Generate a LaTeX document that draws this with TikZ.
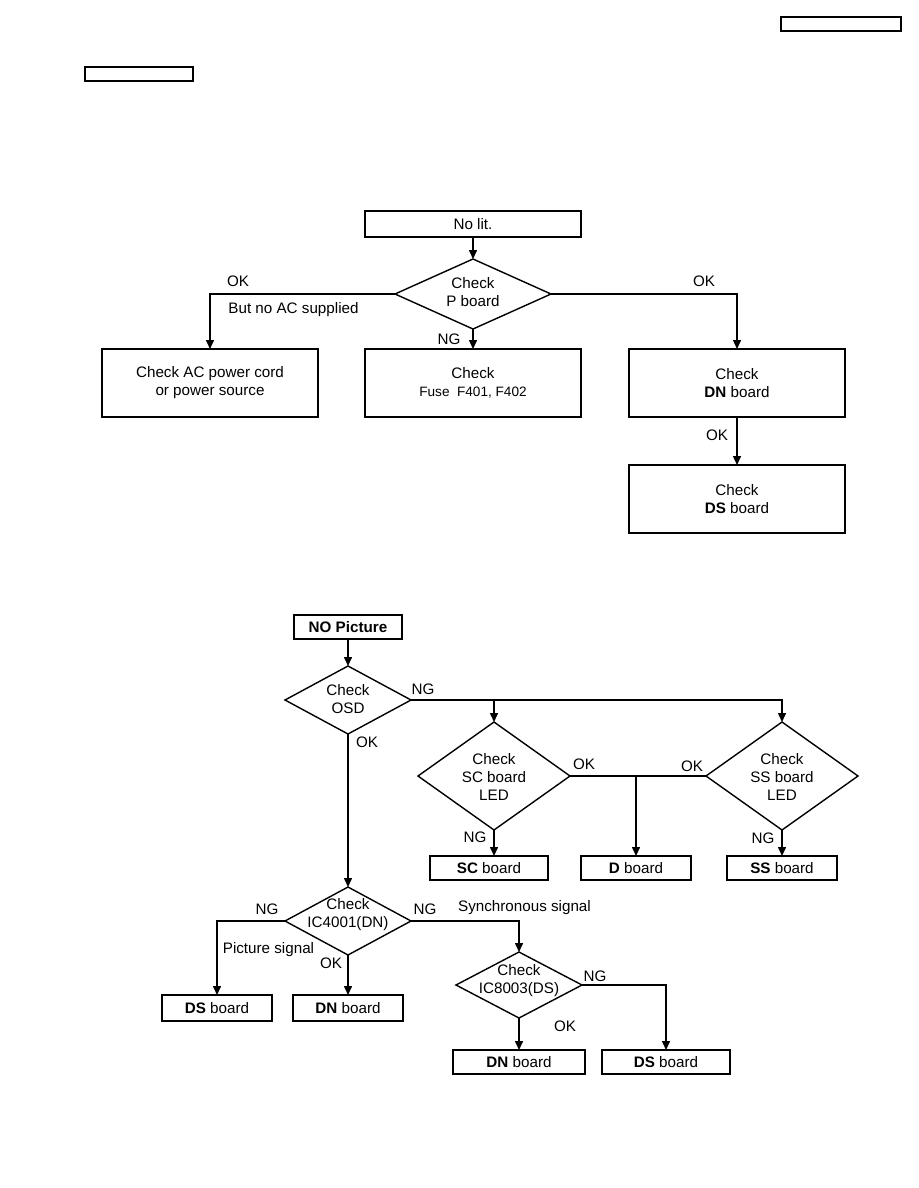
\documentclass[tikz,border=0pt]{standalone}
\usepackage{fontspec}
\setmainfont{Liberation Sans}
\usetikzlibrary{shapes.geometric, arrows.meta, positioning}

\begin{document}
\begin{tikzpicture}[
    x=1pt, y=-1pt,
    font=\fontsize{15.2}{18}\selectfont,
    action/.style={rectangle, draw, line width=1.6pt, align=center, inner sep=0pt, outer sep=0pt},
    decision/.style={diamond, draw, line width=1.4pt, inner sep=0pt, outer sep=0pt},
    blank/.style={rectangle, draw, line width=1.3pt, inner sep=0pt, outer sep=0pt},
    arrow/.style={-{Triangle[length=9pt, width=8pt]}, line width=1.5pt},
    line/.style={line width=1.5pt}
]
\useasboundingbox (0,0) rectangle (918,1188);

% Header boxes
\node[blank, minimum width=120pt, minimum height=14pt] (headright) at (841,24) {};
\node[blank, minimum width=108pt, minimum height=14pt] (headleft) at (139,74) {};

% No lit.
\node[action, minimum width=216pt, minimum height=26pt] (nolit) at (473,224) {No lit.};
\node[decision, minimum width=156pt, minimum height=70pt] (pboard) at (473,294) {};
\node[align=center] (pboardtext) at (473,292) {Check\\P board};
\node[action, minimum width=216pt, minimum height=68pt] (fuse) at (473,383) {Check\\{\fontsize{13.6}{18}\selectfont Fuse\ \ F401, F402}};
\node[action, minimum width=216pt, minimum height=68pt] (acpower) at (210,383) {Check AC power cord\\or power source};
\node[action, minimum width=216pt, minimum height=68pt] (dnboard) at (737,383) {Check\\\textbf{DN} board};
\node[action, minimum width=216pt, minimum height=68pt, below=48pt of dnboard] (dsboard) {Check\\\textbf{DS} board};

\draw[arrow] (nolit.south) -- (pboard.north);
\draw[arrow] (pboard.west) -| (acpower.north);
\draw[arrow] (pboard.south) -- (fuse.north);
\draw[arrow] (pboard.east) -| (dnboard.north);
\draw[arrow] (dnboard.south) -- (dsboard.north);

\node (okac) at (238,281) {OK};
\node (noac) at (293.5,310) {But no AC supplied};
\node (ngfuse) at (449,339) {NG};
\node (okdn) at (704,281) {OK};
\node (okds) at (717,435) {OK};

% NO Picture
\node[action, minimum width=108pt, minimum height=24pt] (nopic) at (348,627) {\textbf{NO Picture}};
\node[decision, minimum width=126pt, minimum height=68pt] (osd) at (348,700) {};
\node[align=center] (osdtext) at (348,699) {Check\\OSD};
\node[decision, minimum width=152pt, minimum height=108pt] (scled) at (494,776) {};
\node[align=center] (scledtext) at (494,777) {Check\\SC board\\LED};
\node[decision, minimum width=152pt, minimum height=108pt] (ssled) at (782,776) {};
\node[align=center] (ssledtext) at (782,777) {Check\\SS board\\LED};
\node[action, minimum width=118pt, minimum height=24pt] (scboard) at (489,868) {\textbf{SC} board};
\node[action, minimum width=110pt, minimum height=24pt] (dboard) at (636,868) {\textbf{D} board};
\node[action, minimum width=110pt, minimum height=24pt] (ssboard) at (782,868) {\textbf{SS} board};

\node[decision, minimum width=126pt, minimum height=68pt] (icdn) at (348,921) {};
\node[align=center] (icdntext) at (348,915) {Check\\IC4001(DN)};
\node[action, minimum width=110pt, minimum height=26pt] (dsleft) at (217,1008) {\textbf{DS} board};
\node[action, minimum width=110pt, minimum height=26pt] (dnleft) at (348,1008) {\textbf{DN} board};
\node[decision, minimum width=126pt, minimum height=66pt] (icds) at (519,985) {};
\node[align=center] (icdstext) at (519,981) {Check\\IC8003(DS)};
\node[action, minimum width=132pt, minimum height=24pt] (dnlow) at (519,1062) {\textbf{DN} board};
\node[action, minimum width=128pt, minimum height=24pt] (dslow) at (666,1062) {\textbf{DS} board};

\draw[arrow] (nopic.south) -- (osd.north);
\draw[arrow] (osd.east) -| (ssled.north);
\draw[arrow] (scled.north |- osd.east) -- (scled.north);
\draw[line] (scled.east) -- (ssled.west);
\draw[arrow] (dboard.north |- scled.east) -- (dboard.north);
\draw[arrow] (scled.south) -- (scled.south |- scboard.north);
\draw[arrow] (ssled.south) -- (ssled.south |- ssboard.north);
\draw[arrow] (osd.south) -- (icdn.north);
\draw[arrow] (icdn.west) -| (dsleft.north);
\draw[arrow] (icdn.south) -- (icdn.south |- dnleft.north);
\draw[arrow] (icdn.east) -| (icds.north);
\draw[arrow] (icds.south) -- (icds.south |- dnlow.north);
\draw[arrow] (icds.east) -| (dslow.north);

\node (ngosd) at (423,689) {NG};
\node (okosd) at (367,742) {OK};
\node (oksc) at (584,764) {OK};
\node (okss) at (692,766) {OK};
\node (ngsc) at (475,837) {NG};
\node (ngss) at (763,838) {NG};
\node (ngpic) at (267,909) {NG};
\node (picsig) at (268.5,950) {Picture signal};
\node (okicdn) at (331,963) {OK};
\node (ngsync) at (425,909) {NG};
\node (syncsig) at (524.5,908) {Synchronous signal};
\node (ngicds) at (595,976) {NG};
\node (okicds) at (565,1026) {OK};

\end{tikzpicture}
\end{document}
